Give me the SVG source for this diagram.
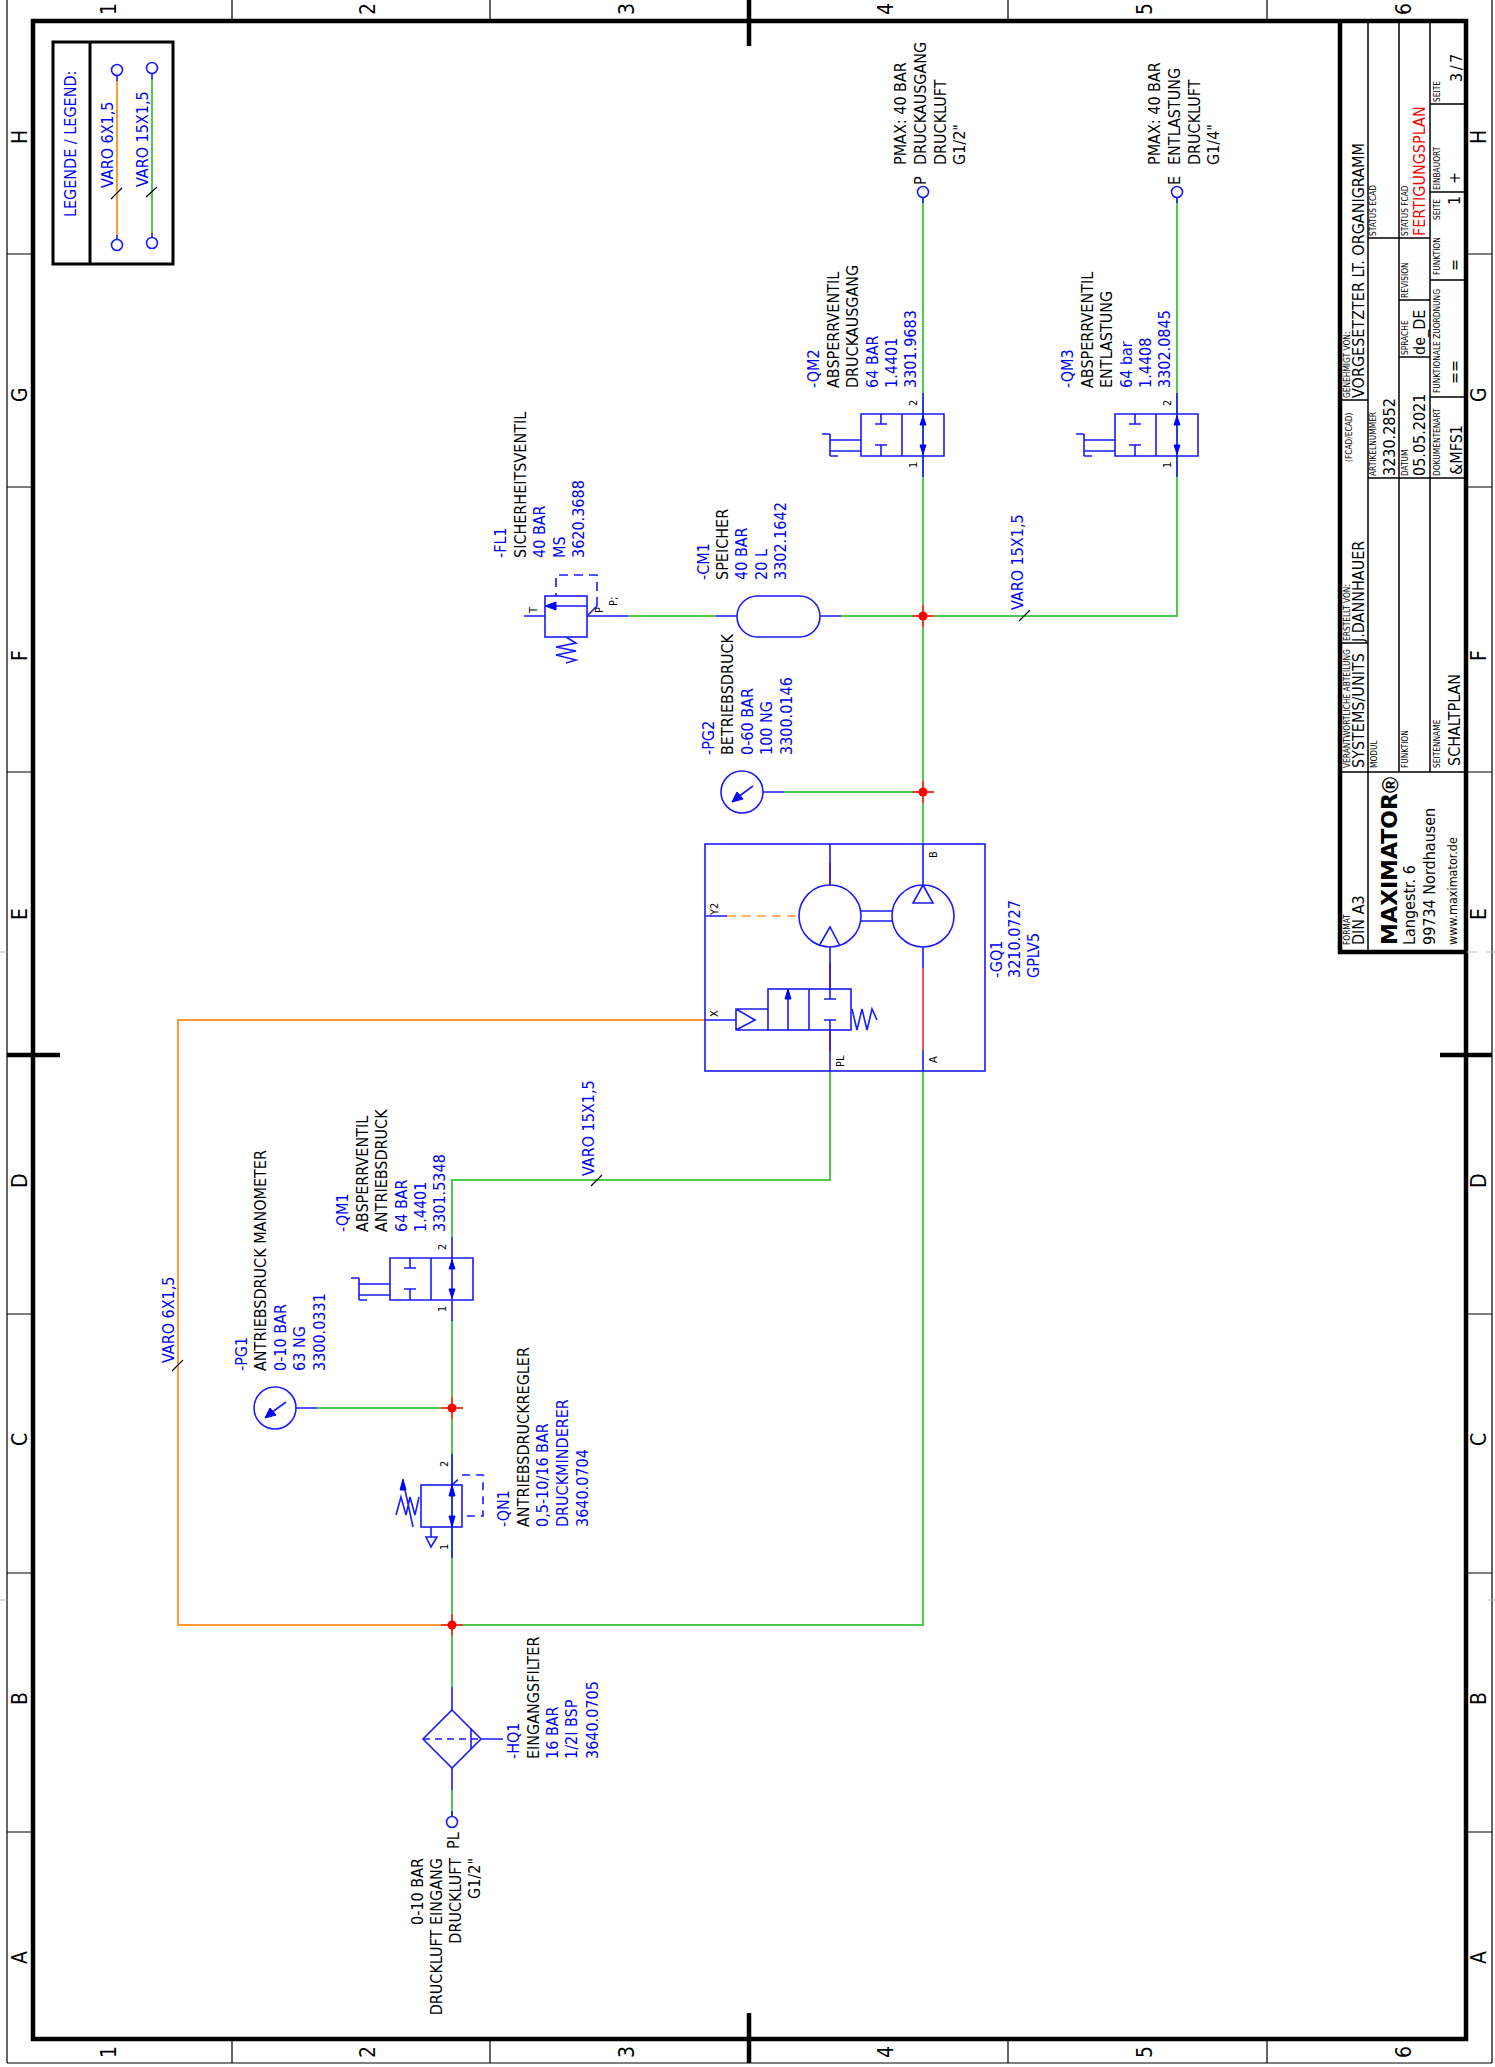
<svg xmlns="http://www.w3.org/2000/svg" width="1495" height="2067" viewBox="0 0 1495 2067">
<defs>
<style>
text{font-family:"DejaVu Sans Condensed","DejaVu Sans",sans-serif;font-size:16px;fill:#000}
.b{fill:#0000ff}
.s{font-size:11px}
.t{font-size:8.3px}
.z{font-size:21px}
.e{text-anchor:end}
.ln{fill:none;stroke:#1a1aff;stroke-width:1.6}
.sf{fill:#fff;stroke:#1a1aff;stroke-width:1.6}
.bl{fill:#0000ff;stroke:#0000ff;stroke-width:1}
.d{stroke-dasharray:9 6}
.g{fill:none;stroke:#4fc94f;stroke-width:2}
.o{fill:none;stroke:#ff9933;stroke-width:2}
.r{fill:none;stroke:#e0452a;stroke-width:2}
.k{fill:none;stroke:#000;stroke-width:1.2}
.f{fill:none;stroke:#000;stroke-width:1.5}
.h{fill:none;stroke:#000;stroke-width:3}
.x{fill:none;stroke:#000;stroke-width:4.5}
.j{fill:#ff0000}
</style>
<g id="shutoff">
<path class="ln" d="M861 414H944V456H861ZM902 414V456M881 414V424M875 424H887M881 456V445M875 445H887M861 440H830M861 451H830M830 456V434M822 434H830M830 456H838M923 393V477"/>
<path class="bl" d="M923 416L926 425H920ZM923 454L926 445H920Z"/>
</g>
</defs>
<rect width="1495" height="2067" fill="#fff"/>

<g id="frame">
<path class="k" d="M7 0V2063M1492 0V2063M7 2063H1492M7 254H33M7 487H33M7 772H33M7 1314H33M7 1573H33M7 1832H33M1466 254H1492M1466 487H1492M1466 772H1492M1466 1314H1492M1466 1573H1492M1466 1832H1492M232 0V21M490 0V21M1008 0V21M1267 0V21M232 2039V2063M490 2039V2063M1008 2039V2063M1267 2039V2063"/>
<rect class="x" x="33" y="21" width="1433" height="2018"/>
<path class="x" d="M749 0V46M749 2013V2063M7 1055H60M1440 1055H1492"/>
<path d="M1467 952H1477M1487 952H1495M0 952H7M0 1600H7M1488 1600H1495" fill="none" stroke="#bbb"/>
<text class="z" transform="translate(116 15) rotate(-90)">1</text>
<text class="z" transform="translate(375 15) rotate(-90)">2</text>
<text class="z" transform="translate(634 15) rotate(-90)">3</text>
<text class="z" transform="translate(893 15) rotate(-90)">4</text>
<text class="z" transform="translate(1152 15) rotate(-90)">5</text>
<text class="z" transform="translate(1411 15) rotate(-90)">6</text>
<text class="z" transform="translate(116 2058) rotate(-90)">1</text>
<text class="z" transform="translate(375 2058) rotate(-90)">2</text>
<text class="z" transform="translate(634 2058) rotate(-90)">3</text>
<text class="z" transform="translate(893 2058) rotate(-90)">4</text>
<text class="z" transform="translate(1152 2058) rotate(-90)">5</text>
<text class="z" transform="translate(1411 2058) rotate(-90)">6</text>
<text class="z" transform="translate(27 144) rotate(-90)">H</text>
<text class="z" transform="translate(27 402) rotate(-90)">G</text>
<text class="z" transform="translate(27 661) rotate(-90)">F</text>
<text class="z" transform="translate(27 920) rotate(-90)">E</text>
<text class="z" transform="translate(27 1188) rotate(-90)">D</text>
<text class="z" transform="translate(27 1446) rotate(-90)">C</text>
<text class="z" transform="translate(27 1705) rotate(-90)">B</text>
<text class="z" transform="translate(27 1964) rotate(-90)">A</text>
<text class="z" transform="translate(1486 144) rotate(-90)">H</text>
<text class="z" transform="translate(1486 402) rotate(-90)">G</text>
<text class="z" transform="translate(1486 661) rotate(-90)">F</text>
<text class="z" transform="translate(1486 920) rotate(-90)">E</text>
<text class="z" transform="translate(1486 1188) rotate(-90)">D</text>
<text class="z" transform="translate(1486 1446) rotate(-90)">C</text>
<text class="z" transform="translate(1486 1705) rotate(-90)">B</text>
<text class="z" transform="translate(1486 1964) rotate(-90)">A</text>
</g>

<g id="title-block">
<path class="x" d="M1340 21V952H1466"/>
<path class="f" d="M1340 772H1466M1368 21V952M1399 21V772M1430 21V772M1368 478H1466M1340 400H1368M1340 643H1368M1368 238H1430M1399 300H1430M1399 357H1430M1430 104H1466M1430 192H1466M1430 280H1466M1430 397H1466"/>
<text class="t" transform="translate(1350 768) rotate(-90)">VERANTWORTLICHE ABTEILUNG</text>
<text transform="translate(1364 768) rotate(-90)">SYSTEMS/UNITS</text>
<text class="t" transform="translate(1350 641) rotate(-90)">ERSTELLT VON:</text>
<text transform="translate(1364 642) rotate(-90)">J.DANNHAUER</text>
<text class="t" transform="translate(1352 462) rotate(-90)">(FCAD/ECAD)</text>
<text class="t" transform="translate(1350 398) rotate(-90)">GENEHMIGT VON:</text>
<text transform="translate(1364 398) rotate(-90)">VORGESETZTER LT. ORGANIGRAMM</text>
<text class="t" transform="translate(1377 768) rotate(-90)">MODUL</text>
<text class="t" transform="translate(1376 476) rotate(-90)">ARTIKELNUMMER</text>
<text transform="translate(1395 476) rotate(-90)">3230.2852</text>
<text class="t" transform="translate(1376 236) rotate(-90)">STATUS ECAD</text>
<text class="t" transform="translate(1408 768) rotate(-90)">FUNKTION</text>
<text class="t" transform="translate(1408 476) rotate(-90)">DATUM</text>
<text transform="translate(1425 476) rotate(-90)">05.05.2021</text>
<text class="t" transform="translate(1408 355) rotate(-90)">SPRACHE</text>
<text transform="translate(1425 355) rotate(-90)">de_DE</text>
<text class="t" transform="translate(1408 298) rotate(-90)">REVISION</text>
<text class="t" transform="translate(1408 236) rotate(-90)">STATUS FCAD</text>
<text transform="translate(1425 236) rotate(-90)" style="fill:#ff0000">FERTIGUNGSPLAN</text>
<text class="t" transform="translate(1440 768) rotate(-90)">SEITENNAME</text>
<text transform="translate(1460 766) rotate(-90)">SCHALTPLAN</text>
<text class="t" transform="translate(1440 476) rotate(-90)">DOKUMENTENART</text>
<text transform="translate(1462 475) rotate(-90)">&amp;MFS1</text>
<text class="t" transform="translate(1440 393) rotate(-90)">FUNKTIONALE ZUORDNUNG</text>
<text transform="translate(1460 384) rotate(-90)">==</text>
<text class="t" transform="translate(1440 275) rotate(-90)">FUNKTION</text>
<text transform="translate(1460 271) rotate(-90)">=</text>
<text class="t" transform="translate(1440 220) rotate(-90)">SEITE</text>
<text transform="translate(1460 205) rotate(-90)">1</text>
<text class="t" transform="translate(1440 190) rotate(-90)">EINBAUORT</text>
<text transform="translate(1460 184) rotate(-90)">+</text>
<text class="t" transform="translate(1440 102) rotate(-90)">SEITE</text>
<text transform="translate(1462 82) rotate(-90)" style="letter-spacing:2.5px">3/7</text>
<text class="t" transform="translate(1350 945) rotate(-90)">FORMAT</text>
<text transform="translate(1364 945) rotate(-90)">DIN A3</text>
<text transform="translate(1397 945) rotate(-90)" style="font-family:'DejaVu Sans',sans-serif;font-weight:bold;font-size:22px">MAXIMATOR</text>
<text transform="translate(1398 793) rotate(-90)" style="font-family:'Liberation Sans',sans-serif;font-weight:bold;font-size:22px">®</text>
<text transform="translate(1415 945) rotate(-90)">Langestr. 6</text>
<text transform="translate(1435 945) rotate(-90)">99734 Nordhausen</text>
<text transform="translate(1457 945) rotate(-90)" style="font-size:12.5px">www.maximator.de</text>
</g>

<g id="legend">
<rect class="h" x="53" y="42" width="120" height="222"/>
<path class="h" d="M90 42V264"/>
<text class="b" transform="translate(76 217) rotate(-90)">LEGENDE / LEGEND:</text>
<path class="o" d="M117 80V235"/>
<path class="g" d="M152 78V233"/>
<path class="ln" d="M117 76V81M117 235V240M152 74V79M152 233V238"/>
<circle class="sf" cx="117" cy="70" r="5.5"/><circle class="sf" cx="117" cy="245" r="5.5"/>
<circle class="sf" cx="152" cy="68" r="5.5"/><circle class="sf" cx="152" cy="243" r="5.5"/>
<path class="k" d="M111 199L122 188M146 197L157 187"/>
<text class="b" transform="translate(113 188) rotate(-90)">VARO 6X1,5</text>
<text class="b" transform="translate(148 187) rotate(-90)">VARO 15X1,5</text>
</g>

<g id="connectors">
<path class="g" d="M923 198V844M923 1071V1625H463M923 616H1177V198M841 616H912M628 616H716M784 792H912"/>
<path class="g" d="M452 1816V1790M452 1687V1636M452 1614V1454M452 1237V1180H830V1071M452 1320V1397M452 1419V1454M317 1408H441"/>
<path class="o" d="M441 1625H178V1020H705"/>
<path class="r" d="M912 616H934M923 605V627M912 792H934M923 781V803M441 1408H463M452 1397V1419M441 1625H463M452 1614V1636"/>
<path class="ln" d="M820 616H841M587 616H628M716 616H737M763 792H784M296 1408H317M452 1687V1710M452 1768V1790M452 1811V1816M923 198V203M1177 198V203"/>
<path class="k" d="M1019 621L1030 610M591 1186L602 1175M172 1371L183 1360"/>
<text class="b" transform="translate(1023 610) rotate(-90)">VARO 15X1,5</text>
<text class="b" transform="translate(594 1176) rotate(-90)">VARO 15X1,5</text>
<text class="b" transform="translate(174 1363) rotate(-90)">VARO 6X1,5</text>
<circle class="j" cx="923" cy="616" r="4.5"/><circle class="j" cx="923" cy="792" r="4.5"/>
<circle class="j" cx="452" cy="1408" r="4.5"/><circle class="j" cx="452" cy="1625" r="4.5"/>
</g>

<g id="port-P">
<circle class="sf" cx="923" cy="192" r="5.5"/>
<text transform="translate(926 185) rotate(-90)">P</text>
<text transform="translate(906 165) rotate(-90)">PMAX: 40 BAR</text>
<text transform="translate(926 165) rotate(-90)">DRUCKAUSGANG</text>
<text transform="translate(946 165) rotate(-90)">DRUCKLUFT</text>
<text transform="translate(965 165) rotate(-90)">G1/2"</text>
</g>
<g id="port-E">
<circle class="sf" cx="1177" cy="192" r="5.5"/>
<text transform="translate(1180 185) rotate(-90)">E</text>
<text transform="translate(1160 165) rotate(-90)">PMAX: 40 BAR</text>
<text transform="translate(1180 165) rotate(-90)">ENTLASTUNG</text>
<text transform="translate(1200 165) rotate(-90)">DRUCKLUFT</text>
<text transform="translate(1219 165) rotate(-90)">G1/4"</text>
</g>
<g id="port-PL">
<circle class="sf" cx="452" cy="1822" r="5.5"/>
<text transform="translate(459 1849) rotate(-90)">PL</text>
<text class="e" transform="translate(423 1858) rotate(-90)">0-10 BAR</text>
<text class="e" transform="translate(442 1858) rotate(-90)">DRUCKLUFT EINGANG</text>
<text class="e" transform="translate(461 1858) rotate(-90)">DRUCKLUFT</text>
<text class="e" transform="translate(480 1858) rotate(-90)">G1/2"</text>
</g>

<g id="QM2">
<use href="#shutoff"/>
<text class="s" transform="translate(917 406) rotate(-90)">2</text>
<text class="s" transform="translate(917 468) rotate(-90)">1</text>
<text class="b" transform="translate(819 388) rotate(-90)">-QM2</text>
<text transform="translate(839 388) rotate(-90)">ABSPERRVENTIL</text>
<text transform="translate(858 388) rotate(-90)">DRUCKAUSGANG</text>
<text class="b" transform="translate(878 388) rotate(-90)">64 BAR</text>
<text class="b" transform="translate(897 388) rotate(-90)">1.4401</text>
<text class="b" transform="translate(916 388) rotate(-90)">3301.9683</text>
</g>
<g id="QM3">
<use href="#shutoff" x="254"/>
<text class="s" transform="translate(1171 406) rotate(-90)">2</text>
<text class="s" transform="translate(1171 468) rotate(-90)">1</text>
<text class="b" transform="translate(1073 388) rotate(-90)">-QM3</text>
<text transform="translate(1093 388) rotate(-90)">ABSPERRVENTIL</text>
<text transform="translate(1112 388) rotate(-90)">ENTLASTUNG</text>
<text class="b" transform="translate(1132 388) rotate(-90)">64 bar</text>
<text class="b" transform="translate(1151 388) rotate(-90)">1.4408</text>
<text class="b" transform="translate(1170 388) rotate(-90)">3302.0845</text>
</g>
<g id="QM1">
<use href="#shutoff" x="-471" y="844"/>
<text class="s" transform="translate(446 1250) rotate(-90)">2</text>
<text class="s" transform="translate(446 1312) rotate(-90)">1</text>
<text class="b" transform="translate(348 1232) rotate(-90)">-QM1</text>
<text transform="translate(368 1232) rotate(-90)">ABSPERRVENTIL</text>
<text transform="translate(387 1232) rotate(-90)">ANTRIEBSDRUCK</text>
<text class="b" transform="translate(407 1232) rotate(-90)">64 BAR</text>
<text class="b" transform="translate(426 1232) rotate(-90)">1.4401</text>
<text class="b" transform="translate(445 1232) rotate(-90)">3301.5348</text>
</g>

<g id="CM1">
<rect class="ln" x="737" y="596" width="83" height="41" rx="20.5" ry="20.5"/>
<text class="b" transform="translate(709 580) rotate(-90)">-CM1</text>
<text transform="translate(728 580) rotate(-90)">SPEICHER</text>
<text class="b" transform="translate(747 580) rotate(-90)">40 BAR</text>
<text class="b" transform="translate(767 580) rotate(-90)">20 L</text>
<text class="b" transform="translate(786 580) rotate(-90)">3302.1642</text>
</g>

<g id="FL1">
<rect class="ln" x="545" y="596" width="42" height="41"/>
<path class="ln" d="M524 616H545M587 606H556M587 616L597 606"/>
<path class="ln d" d="M597 606V575H556V596"/>
<path class="bl" d="M545 606L556 602V610Z"/>
<path class="ln" d="M566 637L576 643L556 647L576 651L556 655L576 660L566 663"/>
<text class="s" transform="translate(537 613) rotate(-90)">T</text>
<text class="s" transform="translate(603 613) rotate(-90)">P</text>
<text class="s" transform="translate(617 606) rotate(-90)">P;</text>
<text class="b" transform="translate(506 558) rotate(-90)">-FL1</text>
<text transform="translate(526 558) rotate(-90)">SICHERHEITSVENTIL</text>
<text class="b" transform="translate(545 558) rotate(-90)">40 BAR</text>
<text class="b" transform="translate(565 558) rotate(-90)">MS</text>
<text class="b" transform="translate(584 558) rotate(-90)">3620.3688</text>
</g>

<g id="PG2">
<circle class="ln" cx="742" cy="792" r="21"/>
<path class="ln" d="M753 786L738 797"/>
<path class="bl" d="M732 802L737 792L743 799Z"/>
<text class="b" transform="translate(714 755) rotate(-90)">-PG2</text>
<text transform="translate(733 755) rotate(-90)">BETRIEBSDRUCK</text>
<text class="b" transform="translate(753 755) rotate(-90)">0-60 BAR</text>
<text class="b" transform="translate(772 755) rotate(-90)">100 NG</text>
<text class="b" transform="translate(792 755) rotate(-90)">3300.0146</text>
</g>

<g id="PG1">
<circle class="ln" cx="275" cy="1408" r="21"/>
<path class="ln" d="M286 1402L271 1413"/>
<path class="bl" d="M265 1418L270 1408L276 1415Z"/>
<text class="b" transform="translate(247 1371) rotate(-90)">-PG1</text>
<text transform="translate(266 1371) rotate(-90)">ANTRIEBSDRUCK MANOMETER</text>
<text class="b" transform="translate(286 1371) rotate(-90)">0-10 BAR</text>
<text class="b" transform="translate(305 1371) rotate(-90)">63 NG</text>
<text class="b" transform="translate(325 1371) rotate(-90)">3300.0331</text>
</g>

<g id="GQ1">
<rect class="ln" x="705" y="844" width="280" height="227"/>
<circle class="ln" cx="830" cy="916" r="31"/>
<circle class="ln" cx="923" cy="916" r="31"/>
<path class="ln" d="M861 911H892M861 921H892M830 844V885M830 947V989M923 844V885M923 947V968M923 1050V1071M830 1030V1071M819 946L830 927L840 946M923 885L913 903H933Z"/>
<path d="M923 968V1050" fill="none" stroke="#ff5555" stroke-width="2"/>
<path d="M830 863V885M830 963V989M830 1030V1051" fill="none" stroke="#4a1aa8" stroke-width="1.6"/>
<path class="ln" d="M705 916H727M705 1020H736"/>
<path class="o d" d="M727 916H799" style="stroke-width:1.6"/>
<rect class="ln" x="768" y="989" width="83" height="41"/>
<path class="ln" d="M809 989V1030M768 1009H736V1030H768M736 1009L755 1020L736 1030M788 1030V990M830 989V999M824 999H836M830 1030V1020M824 1020H836"/>
<path class="bl" d="M788 989L791 999H785Z"/>
<path class="ln" d="M852 1009L857 1030L862 1009L867 1030L872 1009L877 1020"/>
<text class="s" transform="translate(718 915) rotate(-90)">Y2</text>
<text class="s" transform="translate(718 1017) rotate(-90)">X</text>
<text class="s" transform="translate(937 858) rotate(-90)">B</text>
<text class="s" transform="translate(844 1067) rotate(-90)">PL</text>
<text class="s" transform="translate(937 1063) rotate(-90)">A</text>
<text class="b" transform="translate(1002 978) rotate(-90)">-GQ1</text>
<text class="b" transform="translate(1020 978) rotate(-90)">3210.0727</text>
<text class="b" transform="translate(1039 978) rotate(-90)">GPLV5</text>
</g>

<g id="QN1">
<rect class="ln" x="421" y="1485" width="41" height="42"/>
<path class="ln" d="M452 1454V1558M431 1527V1537"/>
<path class="bl" d="M452 1485L455 1496H449ZM452 1527L455 1516H449Z"/>
<path class="ln" d="M426 1537H437L431 1547ZM396 1515L401 1497L406 1515L410 1497L415 1515L419 1497M413 1527L404 1485"/>
<path class="bl" d="M403 1479L406 1490L400 1490Z"/>
<path class="ln d" d="M452 1485L463 1475H483V1516H462" style="stroke-dasharray:8 6"/>
<text class="s" transform="translate(448 1467) rotate(-90)">2</text>
<text class="s" transform="translate(448 1550) rotate(-90)">1</text>
<text class="b" transform="translate(509 1527) rotate(-90)">-QN1</text>
<text transform="translate(529 1527) rotate(-90)">ANTRIEBSDRUCKREGLER</text>
<text class="b" transform="translate(548 1527) rotate(-90)">0,5-10/16 BAR</text>
<text class="b" transform="translate(568 1527) rotate(-90)">DRUCKMINDERER</text>
<text class="b" transform="translate(588 1527) rotate(-90)">3640.0704</text>
</g>

<g id="HQ1">
<path class="ln" d="M452 1710L481 1739L452 1768L423 1739ZM471 1728V1749M481 1739H503"/>
<path class="ln d" d="M423 1739H481" style="stroke-dasharray:7 5"/>
<text class="b" transform="translate(519 1759) rotate(-90)">-HQ1</text>
<text transform="translate(539 1759) rotate(-90)">EINGANGSFILTER</text>
<text class="b" transform="translate(558 1759) rotate(-90)">16 BAR</text>
<text class="b" transform="translate(577 1759) rotate(-90)">1/2I BSP</text>
<text class="b" transform="translate(598 1759) rotate(-90)">3640.0705</text>
</g>
</svg>
